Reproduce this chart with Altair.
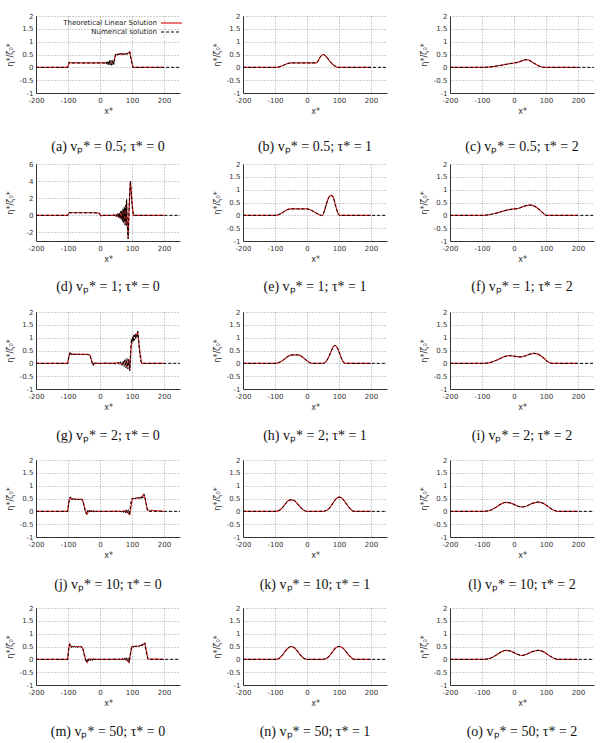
import altair as alt
import pandas as pd

# ---------------- data ----------------
X_TICKS = [-200, -100, 0, 100, 200]
Y_TICKS = [-1, -0.5, 0, 0.5, 1, 1.5, 2]
Y_TICKS_D = [-2, 0, 2, 4, 6]

# (a) vp=0.5, tau=0
a_theo_x = [-200, -101, -96, -90, -80, 0, 30, 42, 46, 50, 60, 70, 80, 88, 93, 98, 103, 200]
a_theo_y = [0, 0, 0.2, 0.17, 0.17, 0.17, 0.17, 0.18, 0.35, 0.5, 0.52, 0.5, 0.53, 0.55, 0.6, 0.3, 0, 0]
a_num_x = [-200, -101, -96, -90, -80, 0, 18, 20, 22, 24, 26, 28, 30, 32, 34, 36, 38, 40, 42, 44,
           46, 48, 51, 54, 57, 60, 63, 66, 69, 72, 75, 78, 81, 84, 87, 90, 93, 97, 103, 250]
a_num_y = [0, 0, 0.2, 0.17, 0.17, 0.17, 0.17, 0.13, 0.22, 0.11, 0.25, 0.09, 0.27, 0.1, 0.26, 0.08, 0.27, 0.1, 0.25, 0.12,
           0.4, 0.5, 0.55, 0.47, 0.54, 0.48, 0.55, 0.49, 0.56, 0.48, 0.55, 0.5, 0.57, 0.5, 0.56, 0.53, 0.6, 0.3, 0, 0]

# (b) vp=0.5, tau=1
b_x = [-200, -100, -90, -80, -70, -60, -50, -40, 0, 25, 32, 40, 50, 60, 70, 80, 90, 96, 200]
b_y = [0, 0, 0.01, 0.05, 0.1, 0.15, 0.17, 0.17, 0.17, 0.17, 0.2, 0.38, 0.5, 0.42, 0.26, 0.12, 0.03, 0, 0]

# (c) vp=0.5, tau=2
c_x = [-200, -100, -80, -60, -40, -20, 0, 10, 20, 30, 38, 48, 58, 68, 80, 95, 200]
c_y = [0, 0, 0.01, 0.04, 0.08, 0.13, 0.17, 0.19, 0.23, 0.28, 0.3, 0.27, 0.2, 0.12, 0.04, 0, 0]

# (d) vp=1, tau=0
d_theo_x = [-200, -101, -96, -90, -60, -20, -3, 3, 10, 40, 46, 50, 54, 58, 61, 64, 67, 70, 73, 76,
            79, 81, 83, 85, 88, 91, 95, 99, 104, 200]
d_theo_y = [0, 0, 0.35, 0.3, 0.3, 0.3, 0.25, -0.05, 0, 0, 0.05, -0.08, 0.12, -0.2, 0.25, -0.35, 0.45, -0.55, 0.7, -0.8,
            0.9, -1.0, 1.8, -0.8, -2.7, 1.0, 4.0, 2.0, 0, 0]
d_num_x = [-200, -101, -96, -90, -80, -60, -40, -20, -3, 3, 10, 30, 40, 44, 47, 50, 53, 56, 58, 60,
           62, 64, 66, 68, 70, 72, 74, 76, 78, 80, 82, 83, 85, 87, 88, 90, 92, 95, 98, 101, 105, 250]
d_num_y = [0, 0, 0.35, 0.28, 0.3, 0.3, 0.3, 0.3, 0.25, -0.05, 0, 0, 0, 0.06, -0.08, 0.12, -0.15, 0.2, -0.25, 0.3,
           -0.35, 0.45, -0.5, 0.6, -0.7, 0.8, -0.85, 1.0, -1.1, 1.2, -1.2, 1.85, -1.0, -2.2, -2.75, -0.5, 2.0, 4.0, 2.6, 0.8, 0, 0]

# (e) vp=1, tau=1
e_x = [-200, -100, -90, -80, -70, -60, -50, -30, 0, 10, 20, 30, 40, 48, 55, 62, 70, 76, 82, 90, 96, 101, 200]
e_y = [0, 0, 0.02, 0.08, 0.16, 0.23, 0.25, 0.25, 0.25, 0.22, 0.15, 0.08, 0.02, -0.01, 0.2, 0.5, 0.74, 0.78, 0.7, 0.35, 0.1, 0, 0]

# (f) vp=1, tau=2
f_x = [-200, -100, -80, -60, -40, -20, 0, 10, 20, 35, 50, 62, 75, 88, 100, 200]
f_y = [0, 0, 0.02, 0.07, 0.14, 0.21, 0.25, 0.26, 0.3, 0.37, 0.4, 0.37, 0.27, 0.12, 0, 0]

# (g) vp=2, tau=0
g_theo_x = [-200, -101, -97, -93, -88, -80, -40, -31, -26, -21, -16, -10, 40, 60, 70, 78, 84, 89, 93, 97,
            100, 106, 112, 118, 123, 130, 200]
g_theo_y = [0, 0, 0.3, 0.4, 0.35, 0.35, 0.35, 0.32, 0.1, -0.06, 0.01, 0, 0, 0.03, -0.06, 0.1, -0.15, 0.15, -0.25, 0.6,
            0.9, 1.05, 1.1, 1.2, 0.6, 0, 0]
g_num_x = [-200, -101, -97, -94, -91, -88, -85, -82, -79, -76, -73, -70, -67, -64, -61, -58, -55, -52, -49, -46,
           -43, -40, -37, -34, -31, -27, -24, -21, -18, -15, -12, -9, -6, -3, 0, 10, 20, 30, 40, 50,
           55, 60, 64, 68, 72, 75, 78, 81, 84, 87, 90, 93, 96, 98, 100, 102, 104, 106, 108, 110,
           112, 114, 116, 118, 121, 124, 128, 132, 250]
g_num_y = [0, 0, 0.25, 0.42, 0.33, 0.38, 0.32, 0.37, 0.33, 0.36, 0.33, 0.36, 0.34, 0.36, 0.34, 0.36, 0.34, 0.36, 0.34, 0.36,
           0.34, 0.35, 0.34, 0.35, 0.3, 0.12, -0.02, -0.08, 0.03, -0.03, 0.02, -0.02, 0.02, -0.01, 0, 0, 0.01, -0.01, 0.02, -0.03,
           0.04, -0.05, 0.06, -0.08, 0.1, -0.12, 0.14, -0.18, 0.2, -0.22, 0.15, -0.3, 0.5, 0.95, 0.8, 1.05, 0.85, 1.1, 0.9, 1.15,
           0.95, 1.1, 1.0, 1.25, 0.9, 0.4, 0.05, 0, 0]

# (h) vp=2, tau=1
h_x = [-200, -100, -90, -80, -70, -60, -50, -40, -30, -20, -10, 0, 8, 15, 50, 58, 66, 74, 82, 88, 95, 103, 111, 120, 200]
h_y = [0, 0, 0.02, 0.08, 0.17, 0.27, 0.32, 0.33, 0.33, 0.3, 0.2, 0.1, 0.03, 0, 0, 0.05, 0.2, 0.42, 0.64, 0.7, 0.6, 0.35, 0.1, 0, 0]

# (i) vp=2, tau=2
i_x = [-200, -100, -85, -70, -55, -40, -25, -15, 0, 10, 22, 35, 50, 62, 75, 88, 100, 110, 118, 200]
i_y = [0, 0, 0.01, 0.05, 0.12, 0.21, 0.28, 0.3, 0.28, 0.26, 0.25, 0.29, 0.36, 0.39, 0.36, 0.26, 0.12, 0.03, 0, 0]

# (j) vp=10, tau=0
j_theo_x = [-200, -101, -97, -93, -88, -80, -70, -60, -55, -50, -45, -40, -35, -25, 0, 70, 80, 88, 93, 97,
            101, 110, 120, 130, 137, 142, 148, 200]
j_theo_y = [0, 0, 0.4, 0.55, 0.47, 0.49, 0.47, 0.48, 0.45, 0.25, 0.0, -0.1, 0.02, 0, 0, 0, 0.03, -0.08, -0.12, 0.2,
            0.48, 0.5, 0.52, 0.56, 0.65, 0.45, 0.05, 0]
j_num_x = [-200, -101, -98, -95, -92, -89, -86, -83, -80, -77, -74, -71, -68, -65, -62, -59, -56, -53, -50, -46,
           -42, -39, -36, -33, -30, -27, -24, -21, -18, -15, -12, -9, -6, 0, 10, 20, 30, 40, 50, 56,
           62, 66, 70, 74, 77, 80, 83, 86, 89, 92, 95, 98, 101, 104, 107, 110, 113, 116, 119, 122,
           125, 128, 131, 134, 137, 140, 144, 149, 152, 250]
j_num_y = [0, 0, 0.3, 0.5, 0.56, 0.44, 0.5, 0.45, 0.5, 0.44, 0.49, 0.44, 0.48, 0.44, 0.48, 0.44, 0.47, 0.4, 0.2, 0.0,
           -0.12, 0.03, -0.06, 0.04, -0.05, 0.03, -0.04, 0.03, -0.03, 0.03, -0.02, 0.02, -0.01, 0, 0, 0, 0, 0, 0.01, -0.02,
           0.02, -0.03, 0.03, -0.04, 0.05, -0.06, 0.06, -0.08, 0.07, -0.15, 0.2, 0.45, 0.52, 0.48, 0.53, 0.48, 0.54, 0.49, 0.55, 0.5,
           0.57, 0.5, 0.6, 0.52, 0.68, 0.6, 0.3, 0.02, 0, 0]

# (k) vp=10, tau=1
k_x = [-200, -100, -90, -80, -70, -60, -50, -40, -30, -20, -10, 0, 50, 60, 70, 80, 90, 100, 110, 120, 130, 140, 146, 200]
k_y = [0, 0, 0.02, 0.1, 0.25, 0.4, 0.45, 0.42, 0.3, 0.15, 0.04, 0, 0, 0.03, 0.12, 0.3, 0.48, 0.55, 0.5, 0.35, 0.17, 0.04, 0, 0]

# (l) vp=10, tau=2
l_x = [-200, -100, -85, -70, -55, -40, -25, -10, 0, 10, 25, 40, 55, 75, 90, 105, 120, 132, 140, 200]
l_y = [0, 0, 0.01, 0.06, 0.17, 0.29, 0.35, 0.32, 0.27, 0.21, 0.17, 0.21, 0.3, 0.36, 0.32, 0.2, 0.07, 0.01, 0, 0]

# (m) vp=50, tau=0
m_theo_x = [-200, -101, -98, -95, -90, -80, -70, -60, -55, -50, -45, -40, -35, -25, 0, 70, 80, 86, 90, 95,
            100, 110, 120, 130, 140, 145, 150, 200]
m_theo_y = [0, 0, 0.4, 0.6, 0.5, 0.5, 0.49, 0.5, 0.46, 0.25, 0.0, -0.12, 0.02, 0, 0, 0, 0.03, -0.06, -0.12, 0.2,
            0.5, 0.5, 0.52, 0.55, 0.63, 0.35, 0.02, 0]
m_num_x = [-200, -101, -98, -95, -92, -89, -86, -83, -80, -77, -74, -71, -68, -65, -62, -59, -56, -53, -50, -46,
           -42, -39, -36, -33, -30, -27, -24, -21, -18, -15, -12, -9, -6, 0, 10, 20, 30, 40, 50, 56,
           62, 66, 70, 74, 77, 80, 83, 86, 89, 92, 95, 98, 101, 104, 107, 110, 113, 116, 119, 122,
           125, 128, 131, 134, 137, 140, 144, 149, 152, 250]
m_num_y = [0, 0, 0.35, 0.6, 0.55, 0.46, 0.52, 0.46, 0.51, 0.46, 0.5, 0.46, 0.5, 0.46, 0.5, 0.46, 0.49, 0.42, 0.2, 0.0,
           -0.13, 0.03, -0.06, 0.04, -0.05, 0.03, -0.04, 0.03, -0.03, 0.02, -0.02, 0.02, -0.01, 0, 0, 0, 0, 0, 0.01, -0.02,
           0.02, -0.03, 0.03, -0.04, 0.04, -0.05, 0.06, -0.07, 0.06, -0.12, 0.2, 0.45, 0.52, 0.47, 0.53, 0.48, 0.53, 0.49, 0.54, 0.5,
           0.55, 0.5, 0.58, 0.52, 0.6, 0.63, 0.3, 0.02, 0, 0]

# (n) vp=50, tau=1
n_x = [-200, -100, -90, -80, -70, -60, -50, -40, -30, -20, -10, 0, 50, 60, 70, 80, 90, 100, 110, 120, 130, 140, 146, 200]
n_y = [0, 0, 0.02, 0.12, 0.28, 0.43, 0.5, 0.45, 0.32, 0.16, 0.04, 0, 0, 0.03, 0.13, 0.3, 0.45, 0.5, 0.46, 0.33, 0.17, 0.05, 0, 0]

# (o) vp=50, tau=2
o_x = [-200, -100, -85, -70, -55, -40, -25, -10, 0, 10, 25, 40, 55, 75, 90, 105, 120, 132, 140, 200]
o_y = [0, 0, 0.01, 0.06, 0.17, 0.29, 0.35, 0.32, 0.26, 0.2, 0.15, 0.2, 0.29, 0.35, 0.31, 0.19, 0.07, 0.01, 0, 0]

LEGEND_LABELS = ["Theoretical Linear Solution", "Numerical solution"]

# ---------------- chart ----------------
RED = "#dd2222"
W, H = 144, 77
ROW_TITLE_OFFSET = [25, 17, 18, 19, 18]


def tail(xs, ys):
    # numerical solution continues to the right edge of the computational domain
    return xs + [250], ys + [0]


panels = [
    ("a", "0.5", "0", a_theo_x, a_theo_y, a_num_x, a_num_y, "linear"),
    ("b", "0.5", "1", b_x, b_y, *tail(b_x, b_y), "monotone"),
    ("c", "0.5", "2", c_x, c_y, *tail(c_x, c_y), "monotone"),
    ("d", "1", "0", d_theo_x, d_theo_y, d_num_x, d_num_y, "linear"),
    ("e", "1", "1", e_x, e_y, *tail(e_x, e_y), "monotone"),
    ("f", "1", "2", f_x, f_y, *tail(f_x, f_y), "monotone"),
    ("g", "2", "0", g_theo_x, g_theo_y, g_num_x, g_num_y, "linear"),
    ("h", "2", "1", h_x, h_y, *tail(h_x, h_y), "monotone"),
    ("i", "2", "2", i_x, i_y, *tail(i_x, i_y), "monotone"),
    ("j", "10", "0", j_theo_x, j_theo_y, j_num_x, j_num_y, "linear"),
    ("k", "10", "1", k_x, k_y, *tail(k_x, k_y), "monotone"),
    ("l", "10", "2", l_x, l_y, *tail(l_x, l_y), "monotone"),
    ("m", "50", "0", m_theo_x, m_theo_y, m_num_x, m_num_y, "linear"),
    ("n", "50", "1", n_x, n_y, *tail(n_x, n_y), "monotone"),
    ("o", "50", "2", o_x, o_y, *tail(o_x, o_y), "monotone"),
]


def make_panel(idx, spec):
    letter, vp, tau, tx, ty, nx, ny, interp = spec
    is_d = letter == "d"
    ydom = [-3, 6] if is_d else [-1, 2]
    yticks = Y_TICKS_D if is_d else Y_TICKS

    def enc():
        xsc = alt.Scale(domain=[-200, 250], nice=False, zero=False)
        ysc = alt.Scale(domain=ydom, nice=False, zero=False)
        xax = alt.Axis(values=X_TICKS, title="x*", labelExpr="'' + datum.value",
                       labelFlush=False, labelOverlap=False, titlePadding=4)
        yax = alt.Axis(values=yticks, title="η*/ζ₀*", labelExpr="'' + datum.value",
                       labelFlush=False, labelOverlap=False, titleX=-22, titleY=H / 2)
        return dict(x=alt.X("x:Q", scale=xsc, axis=xax), y=alt.Y("y:Q", scale=ysc, axis=yax))

    dt = pd.DataFrame({"x": tx, "y": ty})
    dn = pd.DataFrame({"x": nx, "y": ny})
    red = alt.Chart(dt).mark_line(color=RED, strokeWidth=1.2, interpolate=interp).encode(**enc())
    blk = alt.Chart(dn).mark_line(color="#000000", strokeWidth=1.0, strokeDash=[3, 2],
                                  interpolate=interp).encode(**enc())
    layers = [red, blk]
    if idx == 0:
        t1 = alt.Chart(pd.DataFrame({"t": [LEGEND_LABELS[0]]})).mark_text(
            align="right", baseline="middle", font="DejaVu Sans", fontSize=7, color="#222"
        ).encode(text="t:N", x=alt.value(121), y=alt.value(7))
        t2 = alt.Chart(pd.DataFrame({"t": [LEGEND_LABELS[1]]})).mark_text(
            align="right", baseline="middle", font="DejaVu Sans", fontSize=7, color="#222"
        ).encode(text="t:N", x=alt.value(121), y=alt.value(16))
        r1 = alt.Chart(pd.DataFrame({"k": [0]})).mark_rule(color=RED, strokeWidth=1.2).encode(
            x=alt.value(125), x2=alt.value(146), y=alt.value(7))
        r2 = alt.Chart(pd.DataFrame({"k": [0]})).mark_rule(color="#000000", strokeWidth=1.0,
                                                          strokeDash=[3, 2]).encode(
            x=alt.value(125), x2=alt.value(144), y=alt.value(16))
        layers += [t1, t2, r1, r2]
    caption = f"({letter}) vₚ* = {vp}; τ* = {tau}"
    return alt.layer(*layers).properties(
        width=W, height=H,
        title=alt.TitleParams(text=caption, orient="bottom", anchor="middle",
                              baseline="top", offset=ROW_TITLE_OFFSET[idx // 3],
                              font="Liberation Serif", fontSize=14, fontWeight="normal",
                              color="#111"),
    )


charts = [make_panel(i, p) for i, p in enumerate(panels)]

chart = alt.concat(*charts, columns=3, spacing={"row": 71, "column": 63}, bounds="flush").properties(
    padding={"left": 5, "top": 11, "right": 2, "bottom": 1}
).configure_view(stroke="transparent").configure_axis(
    labelFont="DejaVu Sans", labelFontSize=7, labelColor="#333", labelPadding=3,
    titleFont="DejaVu Sans", titleFontSize=8, titleFontWeight="normal", titleColor="#333",
    domainColor="#333", domainWidth=1, ticks=False,
    gridColor="#888888", gridDash=[1, 2], gridWidth=0.8,
)

chart.save("out.html", embed_options={"renderer": "svg", "actions": False})
